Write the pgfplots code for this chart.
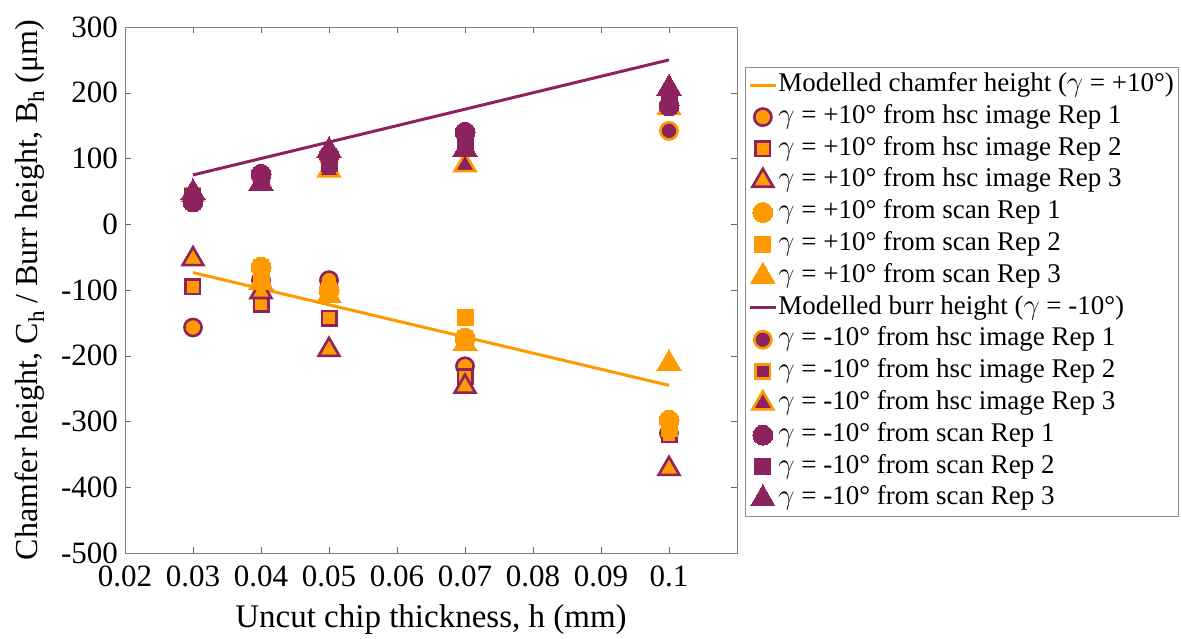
\documentclass[border=0pt]{standalone}
\usepackage{pgfplots}
\pgfplotsset{compat=1.18}
\usepackage{fontspec}
\setmainfont{Liberation Serif}
\definecolor{myorange}{RGB}{255,153,0}
\definecolor{mypurple}{RGB}{140,35,95}
\pgfplotsset{
  mk/.style={only marks, legend image code/.code={\draw[##1,only marks] plot coordinates {(6.5pt,0pt)};}},
  ln/.style={legend image code/.code={\draw[##1] (0pt,0pt) -- (13pt,0pt);}},
}
\begin{document}
\begin{tikzpicture}
\useasboundingbox (-62.5pt,-42.5pt) rectangle (528.5pt,276.5pt);
\begin{axis}[
  at={(0pt,0pt)}, anchor=south west,
  scale only axis,
  width=306pt, height=263pt,
  xmin=0.02, xmax=0.11, ymin=-500, ymax=300,
  xtick={0.02,0.03,0.04,0.05,0.06,0.07,0.08,0.09,0.1},
  xticklabels={0.02,0.03,0.04,0.05,0.06,0.07,0.08,0.09,0.1},
  ytick={-500,-400,-300,-200,-100,0,100,200,300},
  yticklabels={-500,-400,-300,-200,-100,0,100,200,300},
  tick align=inside, major tick length=3pt,
  axis line style={black!50}, tick style={black!60},
  /pgf/number format/assume math mode=true,
  ticklabel style={font=\fontsize{15.5}{18}\selectfont},
  xticklabel style={yshift=-3pt},
  xlabel={Uncut chip thickness, h (mm)},
  ylabel={Chamfer height, C\raisebox{-0.45ex}{\fontsize{11.5}{12}\selectfont h} / Burr height, B\raisebox{-0.45ex}{\fontsize{11.5}{12}\selectfont h} (μm)},
  xlabel style={font=\fontsize{16.5}{19}\selectfont, yshift=-2pt},
  ylabel style={font=\fontsize{16}{19}\selectfont, yshift=1.5pt},
  legend style={at={(1.013,0.924)}, anchor=north west, draw=black!45,
    font=\fontsize{13.5}{15.9}\selectfont, inner xsep=1.5pt, inner ysep=1pt, row sep=0pt,
    nodes={inner ysep=0pt, inner xsep=0.5pt, text height=11pt, text depth=4.9pt}},
  legend cell align=left,
]
% chamfer model
\addplot[ln, myorange, line width=1.5pt] coordinates {(0.03,-73.5) (0.1,-245)};
\addlegendentry{Modelled chamfer height ($\gamma$ = +10°)}
% chamfer hsc
\addplot[mk, mark=*, mark size=4.3pt, mark options={fill=myorange, draw=mypurple, line width=1.3pt}]
 coordinates {(0.03,-157) (0.04,-85) (0.05,-85) (0.07,-216) (0.1,-318)};
\addlegendentry{$\gamma$ = +10° from hsc image Rep 1}
\addplot[mk, mark=square*, mark size=3.6pt, mark options={fill=myorange, draw=mypurple, line width=1.3pt}]
 coordinates {(0.03,-95) (0.04,-122) (0.05,-143) (0.07,-232) (0.1,-320)};
\addlegendentry{$\gamma$ = +10° from hsc image Rep 2}
\addplot[mk, mark=triangle*, mark size=6pt, mark options={fill=myorange, draw=mypurple, line width=1.3pt}]
 coordinates {(0.03,-53) (0.04,-103) (0.05,-191) (0.07,-247) (0.1,-372)};
\addlegendentry{$\gamma$ = +10° from hsc image Rep 3}
% chamfer scan
\addplot[mk, mark=*, mark size=5pt, mark options={fill=myorange, draw=myorange, line width=0pt}]
 coordinates {(0.04,-65) (0.05,-100) (0.07,-173) (0.1,-298)};
\addlegendentry{$\gamma$ = +10° from scan Rep 1}
\addplot[mk, mark=square*, mark size=4pt, mark options={fill=myorange, draw=myorange, line width=0pt}]
 coordinates {(0.04,-80) (0.05,-105) (0.07,-142) (0.1,-310)};
\addlegendentry{$\gamma$ = +10° from scan Rep 2}
\addplot[mk, mark=triangle*, mark size=7pt, mark options={fill=myorange, draw=myorange, line width=0pt}]
 coordinates {(0.04,-88) (0.05,-108) (0.07,-182) (0.1,-212)};
\addlegendentry{$\gamma$ = +10° from scan Rep 3}
% burr model
\addplot[ln, mypurple, line width=1.5pt] coordinates {(0.03,75) (0.1,250)};
\addlegendentry{Modelled burr height ($\gamma$ = -10°)}
% burr hsc
\addplot[mk, mark=*, mark size=4.3pt, mark options={fill=mypurple, draw=myorange, line width=1.3pt}]
 coordinates {(0.03,40) (0.04,72) (0.05,100) (0.07,138) (0.1,142)};
\addlegendentry{$\gamma$ = -10° from hsc image Rep 1}
\addplot[mk, mark=square*, mark size=3.6pt, mark options={fill=mypurple, draw=myorange, line width=1.3pt}]
 coordinates {(0.03,44) (0.04,66) (0.05,92) (0.07,125) (0.1,185)};
\addlegendentry{$\gamma$ = -10° from hsc image Rep 2}
\addplot[mk, mark=triangle*, mark size=6pt, mark options={fill=mypurple, draw=myorange, line width=1.3pt}]
 coordinates {(0.03,45) (0.04,62) (0.05,82) (0.07,90) (0.1,177)};
\addlegendentry{$\gamma$ = -10° from hsc image Rep 3}
% burr scan
\addplot[mk, mark=*, mark size=5pt, mark options={fill=mypurple, draw=mypurple, line width=0pt}]
 coordinates {(0.03,34) (0.04,76) (0.05,105) (0.07,140) (0.1,180)};
\addlegendentry{$\gamma$ = -10° from scan Rep 1}
\addplot[mk, mark=square*, mark size=4pt, mark options={fill=mypurple, draw=mypurple, line width=0pt}]
 coordinates {(0.03,42) (0.04,68) (0.05,92) (0.07,122) (0.1,190)};
\addlegendentry{$\gamma$ = -10° from scan Rep 2}
\addplot[mk, mark=triangle*, mark size=7pt, mark options={fill=mypurple, draw=mypurple, line width=0pt}]
 coordinates {(0.03,48) (0.04,62) (0.05,112) (0.07,114) (0.1,207)};
\addlegendentry{$\gamma$ = -10° from scan Rep 3}
\end{axis}
\end{tikzpicture}
\end{document}
